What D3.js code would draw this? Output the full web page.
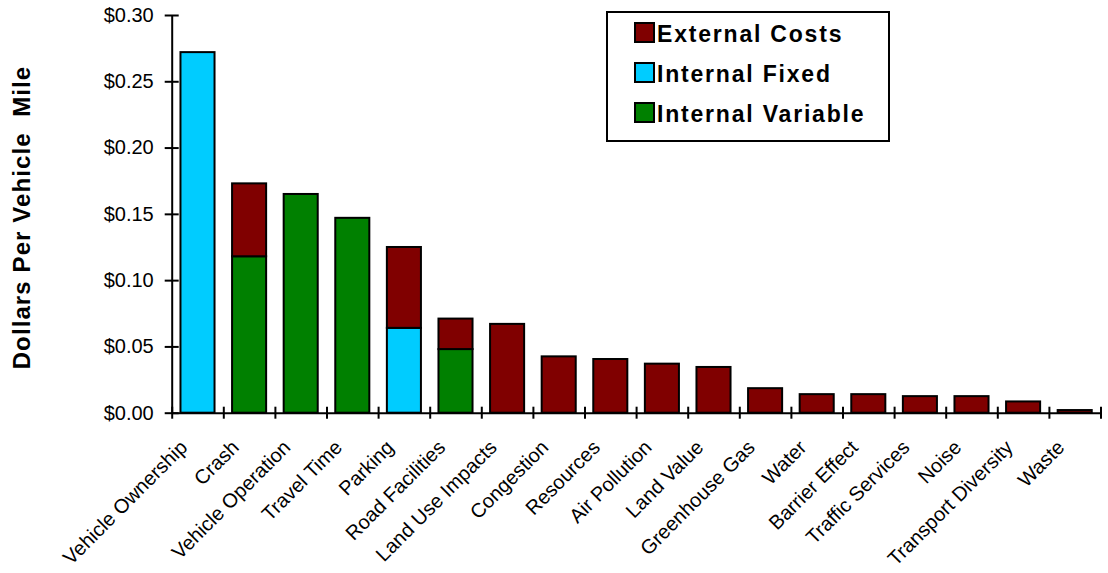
<!DOCTYPE html>
<html>
<head>
<meta charset="utf-8">
<script src="https://cdn.jsdelivr.net/npm/d3@7"></script>
<style>
  body { margin: 0; background: #fff; }
  text { font-family: "Liberation Sans", Arial, sans-serif; }
</style>
</head>
<body>
<div id="container"></div>
<script>
/* CONSTANTS AND GLOBALS */
const width = 1108,
  height = 573,
  margin = { top: 15, bottom: 160.3, left: 171.7, right: 7.5 };

// DATA (dollars per vehicle mile)
const categories = [
  "Vehicle Ownership", "Crash", "Vehicle Operation", "Travel Time", "Parking",
  "Road Facilities", "Land Use Impacts", "Congestion", "Resources", "Air Pollution",
  "Land Value", "Greenhouse Gas", "Water", "Barrier Effect", "Traffic Services",
  "Noise", "Transport Diversity", "Waste"
];
const internalVariable = [0, 0.118, 0.165, 0.147, 0, 0.048, 0, 0, 0, 0, 0, 0, 0, 0, 0, 0, 0, 0];
const internalFixed = [0.272, 0, 0, 0, 0.064, 0, 0, 0, 0, 0, 0, 0, 0, 0, 0, 0, 0, 0];
const externalCosts = [0, 0.055, 0, 0, 0.061, 0.023, 0.067, 0.0425, 0.0405, 0.037,
  0.0345, 0.0185, 0.014, 0.014, 0.0125, 0.0125, 0.0085, 0.002];

const seriesNames = ["Internal Variable", "Internal Fixed", "External Costs"];
const seriesColors = ["#008000", "#00CCFF", "#800000"];
const legendOrder = ["External Costs", "Internal Fixed", "Internal Variable"];
const yTicks = [0, 0.05, 0.10, 0.15, 0.20, 0.25, 0.30];

// TABLE FOR THE STACK
const table = categories.map((c, i) => ({
  category: c,
  "Internal Variable": internalVariable[i],
  "Internal Fixed": internalFixed[i],
  "External Costs": externalCosts[i]
}));
const stacked = d3.stack().keys(seriesNames)(table);

// SCALES
const x = d3.scaleBand()
  .domain(categories)
  .range([margin.left, width - margin.right])
  .paddingInner(0.34)
  .paddingOuter(0.17);

const xEdges = d3.scaleLinear()
  .domain([0, categories.length])
  .range([margin.left, width - margin.right]);

const y = d3.scaleLinear()
  .domain([0, 0.30])
  .range([height - margin.bottom, margin.top]);

const color = d3.scaleOrdinal()
  .domain(seriesNames)
  .range(seriesColors);

// SVG
const svg = d3.select("#container")
  .append("svg")
  .attr("width", width)
  .attr("height", height);

// BARS
svg.selectAll(".layer")
  .data(stacked)
  .join("g")
  .attr("class", "layer")
  .attr("fill", d => color(d.key))
  .selectAll("rect")
  .data(d => d.filter(s => s[1] - s[0] > 0))
  .join("rect")
  .attr("x", d => x(d.data.category))
  .attr("y", d => y(d[1]))
  .attr("width", x.bandwidth())
  .attr("height", d => y(d[0]) - y(d[1]))
  .attr("stroke", "black")
  .attr("stroke-width", 2);

// Y AXIS
const yAxis = svg.append("g")
  .attr("transform", `translate(${margin.left},0)`)
  .call(d3.axisLeft(y)
    .tickValues(yTicks)
    .tickFormat(d3.format("$.2f"))
    .tickSize(7)
    .tickSizeOuter(0)
    .tickPadding(11));
yAxis.select(".domain").attr("stroke", "black").attr("stroke-width", 2);
yAxis.selectAll(".tick line").attr("x1", 7).attr("x2", -7).attr("stroke", "black").attr("stroke-width", 2);
yAxis.selectAll(".tick text")
  .attr("font-size", 20)
  .attr("font-family", "Liberation Sans, Arial, sans-serif")
  .attr("fill", "black");

// X AXIS (ticks at category boundaries)
const xAxis = svg.append("g")
  .attr("transform", `translate(0,${y(0)})`)
  .call(d3.axisBottom(xEdges)
    .ticks(categories.length)
    .tickFormat("")
    .tickSize(6)
    .tickSizeOuter(0));
xAxis.select(".domain").attr("stroke", "black").attr("stroke-width", 2);
xAxis.selectAll(".tick line").attr("y1", -6).attr("y2", 6).attr("stroke", "black").attr("stroke-width", 2);

// CATEGORY LABELS
svg.selectAll(".x-label")
  .data(categories)
  .join("text")
  .attr("class", "x-label")
  .attr("transform", d => `translate(${x(d) + x.bandwidth() / 2 - 9},${y(0) + 36}) rotate(-45)`)
  .attr("text-anchor", "end")
  .attr("font-size", 20)
  .attr("fill", "black")
  .text(d => d);

// Y TITLE
svg.append("text")
  .attr("transform", `translate(30,${(62 + 373) / 2}) rotate(-90)`)
  .attr("text-anchor", "middle")
  .attr("font-size", 24)
  .attr("font-weight", "bold")
  .attr("letter-spacing", 1.1)
  .attr("fill", "black")
  .style("white-space", "pre")
  .text("Dollars Per Vehicle  Mile");

// LEGEND
const legend = svg.append("g");
legend.append("rect")
  .attr("x", 607)
  .attr("y", 12)
  .attr("width", 282)
  .attr("height", 129)
  .attr("fill", "white")
  .attr("stroke", "black")
  .attr("stroke-width", 2);

const items = legend.selectAll(".legend-item")
  .data(legendOrder)
  .join("g")
  .attr("class", "legend-item")
  .attr("transform", (d, i) => `translate(635,${23 + i * 40})`);

items.append("rect")
  .attr("width", 19)
  .attr("height", 19)
  .attr("fill", d => color(d))
  .attr("stroke", "black")
  .attr("stroke-width", 2);

items.append("text")
  .attr("x", 22)
  .attr("y", 18.5)
  .attr("font-size", 23)
  .attr("font-weight", "bold")
  .attr("letter-spacing", 1.8)
  .attr("fill", "black")
  .text(d => d);
</script>
</body>
</html>
